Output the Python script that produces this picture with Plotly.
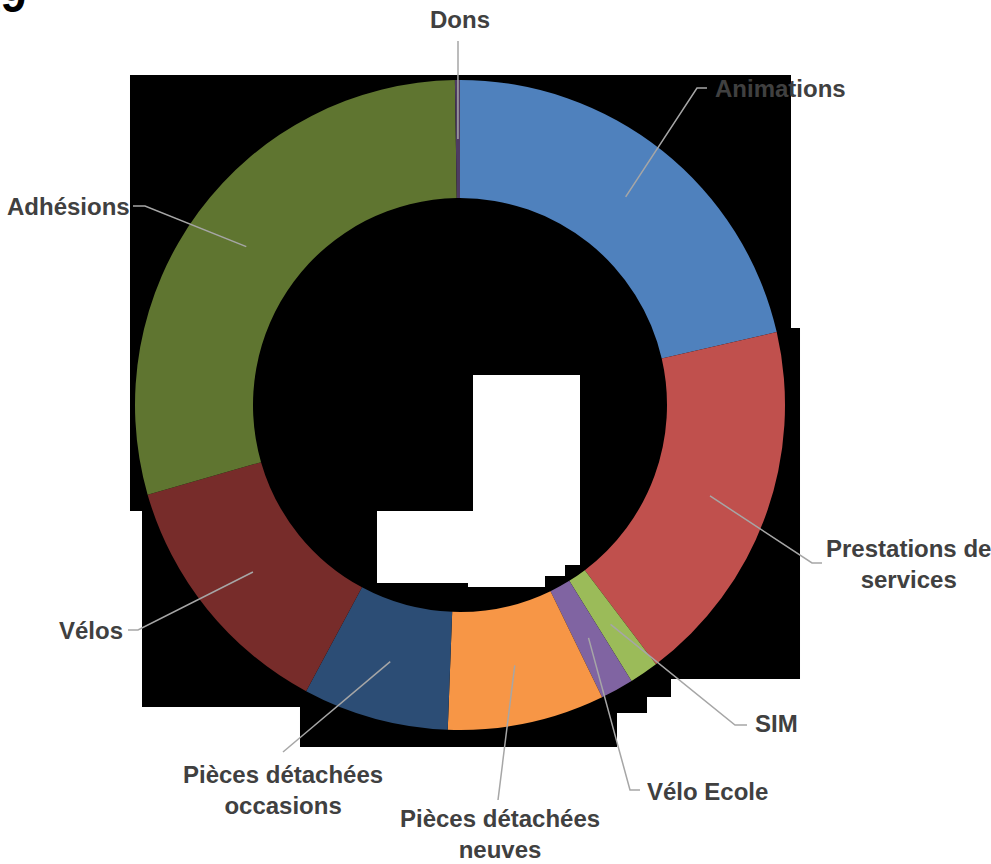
import math
import plotly.graph_objects as go

# ---- data ----
categories = ["Animations", "Prestations de services", "SIM", "Vélo Ecole",
              "Pièces détachées neuves", "Pièces détachées occasions",
              "Vélos", "Adhésions", "Dons"]
values = [21.4, 18.3, 1.45, 1.65, 7.8, 7.25, 12.7, 29.2, 0.25]
label_texts = ["Animations", "Prestations de<br>services", "SIM", "Vélo Ecole",
               "Pièces détachées<br>neuves", "Pièces détachées<br>occasions",
               "Vélos", "Adhésions", "Dons"]
colors = ["#4F81BD", "#C0504D", "#9BBB59", "#8064A2", "#F79646",
          "#2C4D75", "#772C2A", "#5F7530", "#4D3B62"]

# ---- layout helpers (pixels) ----
W, H = 991, 864
CX, CY, R_OUT, R_IN = 460, 405, 325, 207

def px(x):
    return x / W

def py(y):
    return 1 - y / H

# label placement: (elbow point, end of horizontal, text position, xanchor)
label_layout = [
    ((697, 88), (707, 88), (713, 88), "left"),
    ((812, 563), (822, 563), (908, 564), "center"),
    ((735, 725), (747, 725), (753, 723), "left"),
    ((630, 790), (640, 790), (645, 791), "left"),
    ((498, 800), (498, 800), (500, 834), "center"),
    ((283, 752), (283, 752), (283, 790), "center"),
    ((138, 630), (128, 630), (125, 630), "right"),
    ((145, 206), (133, 206), (132, 206), "right"),
    ((458, 41), (458, 41), (460, 20), "center"),
]

fig = go.Figure()
fig.add_trace(go.Pie(
    labels=categories, values=values, sort=False, direction="clockwise",
    rotation=0, hole=R_IN / R_OUT, textinfo="none", hoverinfo="label+percent",
    marker=dict(colors=colors, line=dict(width=0)),
    domain=dict(x=[px(CX - R_OUT), px(CX + R_OUT)],
                y=[py(CY + R_OUT), py(CY - R_OUT)]),
    showlegend=False,
))

shapes = []
# black backdrop
black = [(130, 75), (791, 75), (791, 328), (800, 328), (800, 679), (671, 679),
         (671, 697), (647, 697), (647, 713), (617, 713), (617, 747), (300, 747),
         (300, 707), (142, 707), (142, 511), (130, 511)]
white = [(473, 375), (580, 375), (580, 565), (565, 565), (565, 576), (545, 576),
         (545, 587), (468, 587), (468, 583), (377, 583), (377, 511), (473, 511)]

def poly(pts):
    return "M " + " L ".join(f"{px(x):.5f},{py(y):.5f}" for x, y in pts) + " Z"

shapes.append(dict(type="path", xref="paper", yref="paper", path=poly(black),
                   fillcolor="black", line=dict(width=0), layer="below"))
shapes.append(dict(type="path", xref="paper", yref="paper", path=poly(white),
                   fillcolor="white", line=dict(width=0), layer="below"))

annotations = []
total = sum(values)
cum = 0.0
r_mid = (R_OUT + R_IN) / 2
for v, txt, (elbow, hend, tpos, xa) in zip(values, label_texts, label_layout):
    ang = (cum + v / 2) / total * 2 * math.pi
    cum += v
    sx = CX + r_mid * math.sin(ang)
    sy = CY - r_mid * math.cos(ang)
    path = (f"M {px(sx):.5f},{py(sy):.5f} L {px(elbow[0]):.5f},{py(elbow[1]):.5f} "
            f"L {px(hend[0]):.5f},{py(hend[1]):.5f}")
    shapes.append(dict(type="path", xref="paper", yref="paper", path=path,
                       line=dict(color="#A6A6A6", width=1.5)))
    annotations.append(dict(
        x=px(tpos[0]), y=py(tpos[1]), xref="paper", yref="paper",
        text=txt, showarrow=False, xanchor=xa, yanchor="middle", align="center",
        font=dict(family="Liberation Sans, Arial", size=24, color="#404040",
                  weight="bold"),
    ))

# partially cut title fragment at the top-left corner
annotations.append(dict(
    x=px(28), y=py(24), xref="paper", yref="paper", text="2019", showarrow=False,
    xanchor="right", yanchor="bottom",
    font=dict(family="Liberation Sans, Arial", size=46, color="black", weight="bold"),
))

fig.update_layout(
    width=W, height=H, margin=dict(l=0, r=0, t=0, b=0),
    paper_bgcolor="white", plot_bgcolor="white",
    shapes=shapes, annotations=annotations,
)

fig.write_html("out.html", config={"displayModeBar": False},
               post_script="document.body.style.margin='0px';"
                           "document.body.style.overflow='hidden';")
